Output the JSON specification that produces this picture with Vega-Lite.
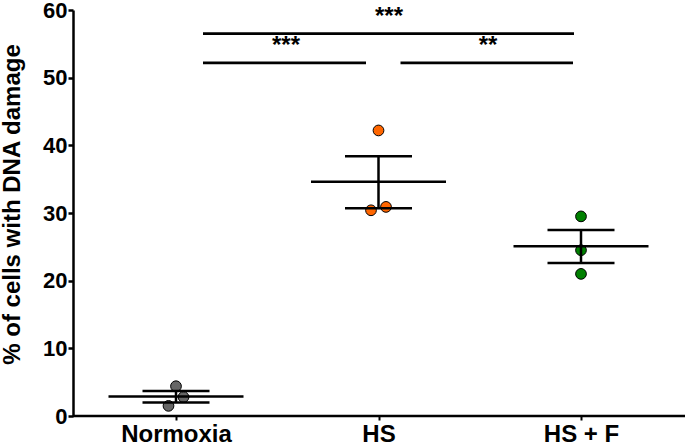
{
  "$schema": "https://vega.github.io/schema/vega-lite/v6.json",
  "width": 612,
  "height": 406,
  "autosize": {"type": "none"},
  "padding": {"left": 73, "top": 10, "right": 0, "bottom": 29},
  "background": "white",
  "config": {
    "view": {"stroke": null},
    "font": "Liberation Sans",
    "axis": {"grid": false}
  },
  "datasets": {
    "cells": [
      {"group": "Normoxia", "value": 4.4, "jitter": 0},
      {"group": "Normoxia", "value": 2.8, "jitter": 1},
      {"group": "Normoxia", "value": 1.5, "jitter": -1},
      {"group": "HS", "value": 42.2, "jitter": 0},
      {"group": "HS", "value": 30.4, "jitter": -1},
      {"group": "HS", "value": 30.9, "jitter": 1},
      {"group": "HS + F", "value": 29.5, "jitter": 0},
      {"group": "HS + F", "value": 24.5, "jitter": 0},
      {"group": "HS + F", "value": 21.0, "jitter": 0}
    ],
    "summary": [
      {"group": "Normoxia", "mean": 2.9, "lower": 2.0, "upper": 3.7},
      {"group": "HS", "mean": 34.6, "lower": 30.7, "upper": 38.4},
      {"group": "HS + F", "mean": 25.1, "lower": 22.6, "upper": 27.5}
    ]
  },
  "layer": [
    {
      "data": {"values": [{}]},
      "mark": {"type": "rule", "strokeWidth": 2.5, "color": "black"},
      "encoding": {"y": {"datum": 0, "type": "quantitative", "scale": {"domain": [0, 60]}}}
    },
    {
      "data": {"name": "cells"},
      "mark": {"type": "point", "filled": true, "size": 115, "stroke": "black", "strokeWidth": 1, "opacity": 1},
      "encoding": {
        "x": {
          "field": "group", "type": "nominal",
          "scale": {"type": "point", "domain": ["Normoxia", "HS", "HS + F"], "range": [103, 508], "padding": 0},
          "axis": {
            "title": null, "domain": false, "labelAngle": 0,
            "tickColor": "black", "tickWidth": 2, "tickSize": 4,
            "labelFont": "Liberation Sans", "labelFontSize": 24, "labelFontWeight": "bold", "labelColor": "black",
            "labelPadding": 2
          }
        },
        "xOffset": {"field": "jitter", "type": "quantitative", "scale": {"domain": [-1, 1], "range": [-7.5, 7.5]}},
        "y": {
          "field": "value", "type": "quantitative",
          "scale": {"domain": [0, 60]},
          "axis": {
            "values": [0, 10, 20, 30, 40, 50, 60],
            "title": "% of cells with DNA damage",
            "domainColor": "black", "domainWidth": 2.5,
            "tickColor": "black", "tickWidth": 2.5, "tickSize": 5,
            "labelFont": "Liberation Sans", "labelFontSize": 22, "labelFontWeight": "bold", "labelColor": "black",
            "labelPadding": 1,
            "titleFont": "Liberation Sans", "titleFontSize": 24, "titleFontWeight": "bold", "titleColor": "black",
            "titleAngle": -90, "titleBaseline": "middle", "titleAlign": "center",
            "titleX": -61, "titleY": 194
          }
        },
        "color": {
          "field": "group", "type": "nominal",
          "scale": {"domain": ["Normoxia", "HS", "HS + F"], "range": ["#666666", "#ff6600", "#008000"]},
          "legend": null
        }
      }
    },
    {
      "data": {"name": "summary"},
      "mark": {"type": "rule", "strokeWidth": 2.5, "color": "black"},
      "encoding": {
        "x": {"field": "group", "type": "nominal"},
        "y": {"field": "lower", "type": "quantitative"},
        "y2": {"field": "upper"}
      }
    },
    {
      "data": {"name": "summary"},
      "mark": {"type": "tick", "size": 135, "thickness": 2.5, "color": "black", "opacity": 1},
      "encoding": {
        "x": {"field": "group", "type": "nominal"},
        "y": {"field": "mean", "type": "quantitative"}
      }
    },
    {
      "data": {"name": "summary"},
      "mark": {"type": "tick", "size": 67, "thickness": 2.5, "color": "black", "opacity": 1},
      "encoding": {
        "x": {"field": "group", "type": "nominal"},
        "y": {"field": "lower", "type": "quantitative"}
      }
    },
    {
      "data": {"name": "summary"},
      "mark": {"type": "tick", "size": 67, "thickness": 2.5, "color": "black", "opacity": 1},
      "encoding": {
        "x": {"field": "group", "type": "nominal"},
        "y": {"field": "upper", "type": "quantitative"}
      }
    },
    {
      "data": {"values": [{"from": "Normoxia", "to": "HS + F", "y": 56.5}]},
      "mark": {"type": "rule", "strokeWidth": 2.7, "color": "black", "xOffset": 27, "x2Offset": -7},
      "encoding": {
        "x": {"field": "from", "type": "nominal"},
        "x2": {"field": "to"},
        "y": {"field": "y", "type": "quantitative"}
      }
    },
    {
      "data": {"values": [{"from": "Normoxia", "to": "HS", "y": 52.2}]},
      "mark": {"type": "rule", "strokeWidth": 2.7, "color": "black", "xOffset": 27, "x2Offset": -12.5},
      "encoding": {
        "x": {"field": "from", "type": "nominal"},
        "x2": {"field": "to"},
        "y": {"field": "y", "type": "quantitative"}
      }
    },
    {
      "data": {"values": [{"from": "HS", "to": "HS + F", "y": 52.2}]},
      "mark": {"type": "rule", "strokeWidth": 2.7, "color": "black", "xOffset": 22, "x2Offset": -8},
      "encoding": {
        "x": {"field": "from", "type": "nominal"},
        "x2": {"field": "to"},
        "y": {"field": "y", "type": "quantitative"}
      }
    },
    {
      "data": {"values": [{"at": "HS", "y": 59.0, "label": "***"}]},
      "mark": {"type": "text", "font": "Liberation Sans", "fontSize": 24, "fontWeight": "bold", "color": "black", "dx": 10.5, "baseline": "middle", "align": "center"},
      "encoding": {
        "x": {"field": "at", "type": "nominal"},
        "y": {"field": "y", "type": "quantitative"},
        "text": {"field": "label"}
      }
    },
    {
      "data": {"values": [{"at": "Normoxia", "y": 54.7, "label": "***"}]},
      "mark": {"type": "text", "font": "Liberation Sans", "fontSize": 24, "fontWeight": "bold", "color": "black", "dx": 110, "baseline": "middle", "align": "center"},
      "encoding": {
        "x": {"field": "at", "type": "nominal"},
        "y": {"field": "y", "type": "quantitative"},
        "text": {"field": "label"}
      }
    },
    {
      "data": {"values": [{"at": "HS", "y": 54.7, "label": "**"}]},
      "mark": {"type": "text", "font": "Liberation Sans", "fontSize": 24, "fontWeight": "bold", "color": "black", "dx": 109.5, "baseline": "middle", "align": "center"},
      "encoding": {
        "x": {"field": "at", "type": "nominal"},
        "y": {"field": "y", "type": "quantitative"},
        "text": {"field": "label"}
      }
    }
  ]
}
